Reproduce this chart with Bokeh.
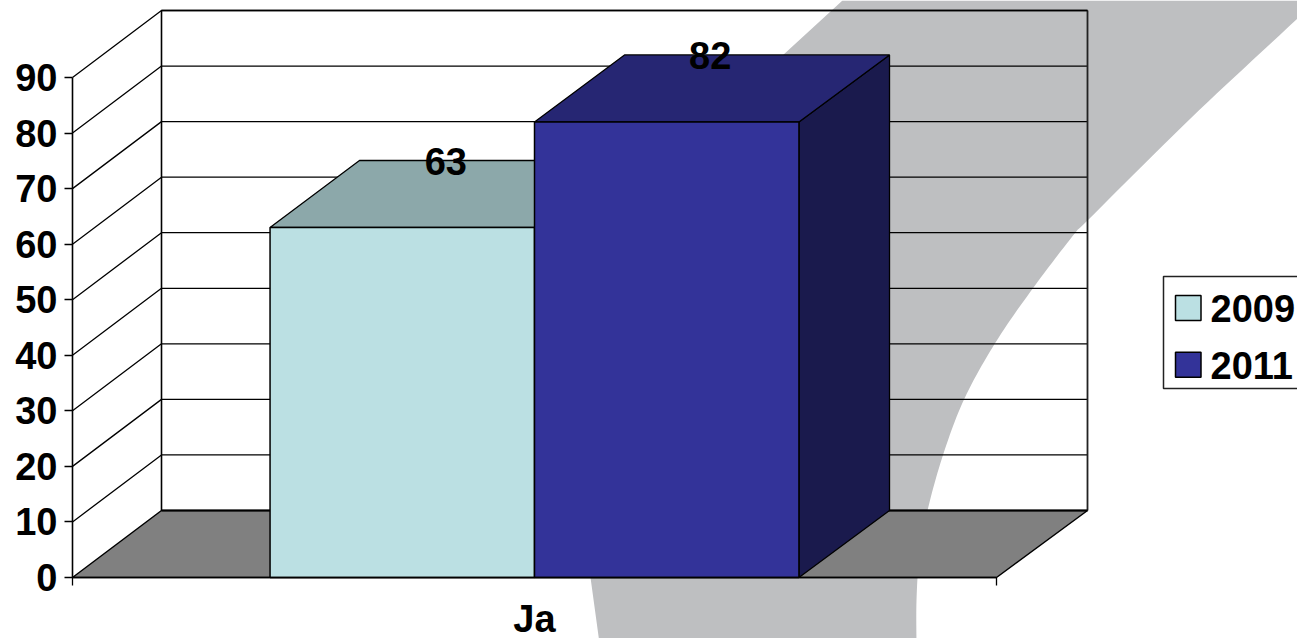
import numpy as np
from bokeh.core.properties import value
from bokeh.embed import file_html
from bokeh.models import FixedTicker, LinearAxis, Range1d
from bokeh.plotting import figure
from bokeh.resources import INLINE

# ---- chart data ----
categories = ["Ja"]
series_names = ["2009", "2011"]
series_values = [63, 82]
y_ticks = [0, 10, 20, 30, 40, 50, 60, 70, 80, 90]

# ---- colours ----
front_colors = ["#BBE0E3", "#333399"]
top_colors = ["#8CA8AA", "#262673"]
side_colors = ["#5E7072", "#1A1A4D"]
swoosh_color = "#BEBFC1"
floor_color = "#808080"

# ---- layout (window pixels) ----
W, H = 1297, 638
PX0, PX1 = 72.0, 996.0
PY0, PY90 = 577.0, 77.0
sx = (PX1 - PX0)
sy = (PY0 - PY90) / 90.0
OFF = 0.0


def rx(px):
    return (np.asarray(px, dtype=float) - PX0) / sx


def ry(py):
    return (PY0 - np.asarray(py, dtype=float)) / sy


DEPTH_Y = 67.0 / sy


def back_x(x):
    return 89.0 / sx + np.asarray(x, dtype=float) * 926.0 / sx


def back_y(y):
    return np.asarray(y, dtype=float) + DEPTH_Y


def bezier(p0, p1, p2, p3, n=40):
    t = np.linspace(0, 1, n)[:, None]
    p0, p1, p2, p3 = map(np.array, (p0, p1, p2, p3))
    return (1 - t) ** 3 * p0 + 3 * (1 - t) ** 2 * t * p1 + 3 * (1 - t) * t ** 2 * p2 + t ** 3 * p3


def smooth(points, n=12):
    # Catmull-Rom curve through hand-traced outline points of the backdrop shape
    pts = np.array(points, dtype=float)
    pts = np.vstack([2 * pts[0] - pts[1], pts, 2 * pts[-1] - pts[-2]])
    out = []
    for i in range(1, len(pts) - 2):
        t = np.linspace(0, 1, n, endpoint=False)[:, None]
        a, b, c, d = pts[i - 1], pts[i], pts[i + 1], pts[i + 2]
        out.append(0.5 * (2 * b + (c - a) * t + (2 * a - 5 * b + 4 * c - d) * t ** 2 + (3 * b - a - 3 * c + d) * t ** 3))
    out.append(pts[-2][None, :])
    return np.vstack(out)


p = figure(
    width=W, height=H, output_backend="svg", toolbar_location=None,
    x_range=Range1d(rx(OFF), rx(OFF + W)), y_range=Range1d(ry(OFF + H), ry(OFF)),
    x_axis_type=None, y_axis_type=None, min_border=0, outline_line_color=None,
    background_fill_color="white", border_fill_color="white",
)
p.grid.visible = False

# background swoosh
left_edge = np.vstack([[[842, 0], [782, 55]], bezier((782, 55), (660, 180), (580, 400), (590, 577)), [[600, 650]]])
right_edge = smooth([(916, 650), (916, 600), (919, 555), (927, 510), (943, 453), (964, 398), (995, 342),
                     (1033, 287), (1075, 232), (1087, 220), (1190, 118), (1297, 18)])
sw = np.vstack([left_edge, right_edge, [[1297, 0]]])
p.patch(rx(sw[:, 0]), ry(sw[:, 1]), fill_color=swoosh_color, line_color=None)

# floor
p.patch([0, 1, back_x(1), back_x(0)], [0, 0, back_y(0), back_y(0)],
        fill_color=floor_color, line_color="black", line_width=1.5)

# walls: grid lines
for t in y_ticks[1:]:
    p.line([0, back_x(0), back_x(1)], [t, back_y(t), back_y(t)], line_color="black", line_width=1.3)
top = back_y(y_ticks[-1])
p.line([back_x(0), back_x(0)], [back_y(0), top], line_color="black", line_width=1.6)
p.line([back_x(1), back_x(1)], [back_y(0), top], line_color="#222222", line_width=1.8)
p.line([back_x(0), back_x(1)], [top, top], line_color="black", line_width=1.6)
p.line([back_x(0), back_x(1)], [back_y(0), back_y(0)], line_color="black", line_width=2)

# 3-D bars
bar_w = 0.2862
n = len(series_values)
for i, v in enumerate(series_values):
    l = 0.5 - bar_w * n / 2 + i * bar_w
    r = l + bar_w
    p.patch([r, back_x(r), back_x(r), r], [0, back_y(0), back_y(v), v],
            fill_color=side_colors[i], line_color="black", line_width=1.3)
    p.patch([l, r, back_x(r), back_x(l)], [v, v, back_y(v), back_y(v)],
            fill_color=top_colors[i], line_color="black", line_width=1.3)
    p.quad(left=l, right=r, bottom=0, top=v,
           fill_color=front_colors[i], line_color="black", line_width=1.5)

# axes
font = "Liberation Sans"
FS = "38px"
ax_y = LinearAxis(ticker=FixedTicker(ticks=y_ticks), fixed_location=0, bounds=(0, 90),
                  major_tick_out=8, major_tick_in=0, minor_tick_line_color=None,
                  major_label_text_font=font, major_label_text_font_style="bold",
                  major_label_text_font_size=FS, major_label_text_color="black",
                  major_label_standoff=7, axis_line_width=1.6, major_tick_line_width=1.3)
p.add_layout(ax_y, "left")
ax_x = LinearAxis(ticker=FixedTicker(ticks=[0, 1]), fixed_location=0, bounds=(0, 1),
                  major_tick_out=8, major_tick_in=0, minor_tick_line_color=None,
                  major_label_text_color=None, major_label_text_font_size="1px",
                  axis_line_width=1.6, major_tick_line_width=1.3)
p.add_layout(ax_x, "below")
ax_c = LinearAxis(ticker=FixedTicker(ticks=[0.5]), fixed_location=0,
                  major_label_overrides={0.5: categories[0]},
                  major_tick_out=0, major_tick_in=0, minor_tick_line_color=None,
                  axis_line_color=None, major_tick_line_color=None,
                  major_label_text_font=font, major_label_text_font_style="bold",
                  major_label_text_font_size=FS, major_label_text_color="black",
                  major_label_standoff=20)
p.add_layout(ax_c, "below")

# data labels (vertically centred on the digits)
for i, v in enumerate(series_values):
    l = 0.5 - bar_w * n / 2 + i * bar_w
    p.text(l + bar_w / 2 + 43.5 / sx, v + 11.9, text=[str(v)], text_font=value(font), text_font_style="bold",
           text_font_size=FS, text_align="center", text_baseline="middle", text_color="black")

# legend
p.quad(left=rx(1163), right=rx(1340), top=ry(276), bottom=ry(388), fill_color="white",
       line_color="#222222", line_width=1.5)
for i, name in enumerate(series_names):
    y0 = 295 + i * 56.7
    p.quad(left=rx(1175), right=rx(1200.5), top=ry(y0), bottom=ry(y0 + 25),
           fill_color=front_colors[i], line_color="black", line_width=1.5)
    p.text(rx(1210), ry(y0 + 13), text=[name], text_font=value(font), text_font_style="bold",
           text_font_size=FS, text_align="left", text_baseline="middle", text_color="black")

open("out.html", "w").write(file_html(p, INLINE))
